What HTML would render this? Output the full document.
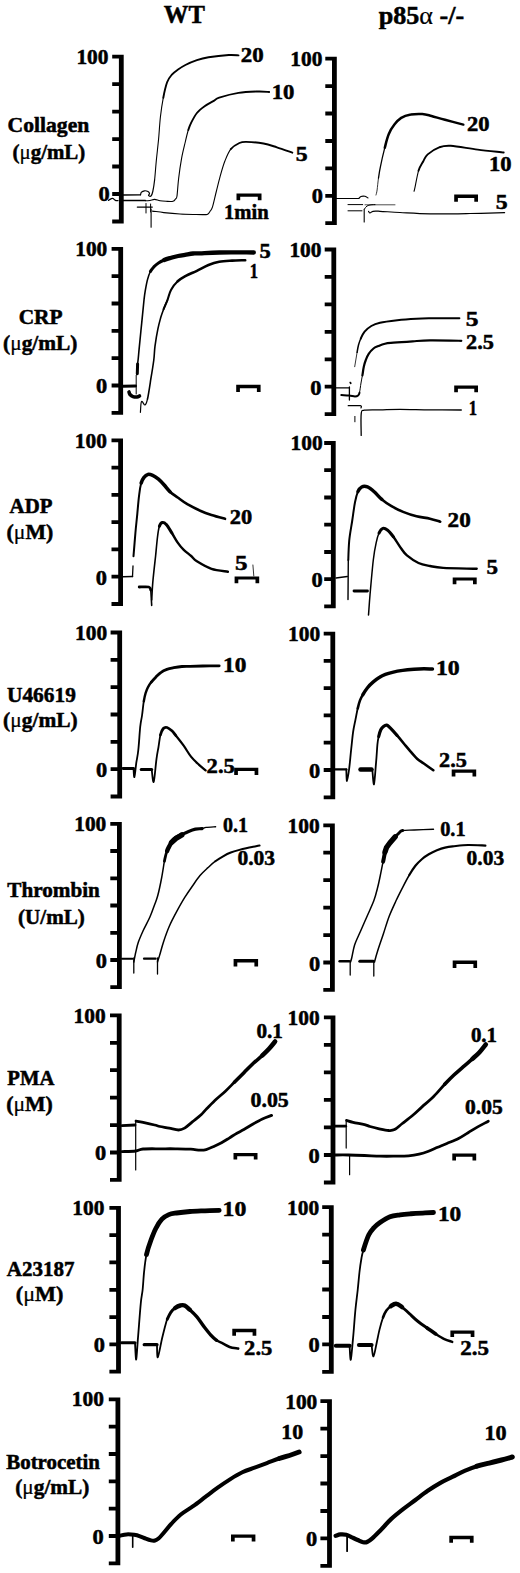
<!DOCTYPE html>
<html><head><meta charset="utf-8"><style>
html,body{margin:0;padding:0;background:#fff;overflow:hidden;}
svg{display:block;}
text{font-family:"Liberation Serif",serif;font-weight:bold;stroke:#000;stroke-width:0.5px;}
.tr{fill:none;stroke:#000;stroke-linejoin:round;stroke-linecap:round;}
</style></head><body>
<svg width="520" height="1573" viewBox="0 0 520 1573">
<path d="M118.9 54.8h4.8v168.6h-4.8zM112.2 54.8h7.2v3.8h-7.2zM112.2 82.3h7.2v3.8h-7.2zM112.2 109.7h7.2v3.8h-7.2zM112.2 137.2h7.2v3.8h-7.2zM112.2 164.6h7.2v3.8h-7.2zM112.2 192.1h7.2v3.8h-7.2zM112.2 219.6h7.2v3.8h-7.2z"/>
<path d="M118.3 247h4.8v167.7h-4.8zM111.6 247h7.2v3.8h-7.2zM111.6 274.3h7.2v3.8h-7.2zM111.6 301.6h7.2v3.8h-7.2zM111.6 329h7.2v3.8h-7.2zM111.6 356.3h7.2v3.8h-7.2zM111.6 383.6h7.2v3.8h-7.2zM111.6 410.9h7.2v3.8h-7.2z"/>
<path d="M118.2 438.4h4.8v167.5h-4.8zM111.5 438.4h7.2v3.8h-7.2zM111.5 465.7h7.2v3.8h-7.2zM111.5 493h7.2v3.8h-7.2zM111.5 520.2h7.2v3.8h-7.2zM111.5 547.5h7.2v3.8h-7.2zM111.5 574.8h7.2v3.8h-7.2zM111.5 602.1h7.2v3.8h-7.2z"/>
<path d="M117.3 630.6h4.8v167.8h-4.8zM110.6 630.6h7.2v3.8h-7.2zM110.6 657.9h7.2v3.8h-7.2zM110.6 685.3h7.2v3.8h-7.2zM110.6 712.6h7.2v3.8h-7.2zM110.6 740h7.2v3.8h-7.2zM110.6 767.3h7.2v3.8h-7.2zM110.6 794.6h7.2v3.8h-7.2z"/>
<path d="M117 821.9h4.8v167.2h-4.8zM110.3 821.9h7.2v3.8h-7.2zM110.3 849.1h7.2v3.8h-7.2zM110.3 876.4h7.2v3.8h-7.2zM110.3 903.6h7.2v3.8h-7.2zM110.3 930.9h7.2v3.8h-7.2zM110.3 958.1h7.2v3.8h-7.2zM110.3 985.3h7.2v3.8h-7.2z"/>
<path d="M116.8 1013.5h4.8v168.3h-4.8zM110 1013.5h7.2v3.8h-7.2zM110 1040.9h7.2v3.8h-7.2zM110 1068.3h7.2v3.8h-7.2zM110 1095.8h7.2v3.8h-7.2zM110 1123.2h7.2v3.8h-7.2zM110 1150.6h7.2v3.8h-7.2zM110 1178h7.2v3.8h-7.2z"/>
<path d="M116.1 1205.9h4.8v167.7h-4.8zM109.4 1205.9h7.2v3.8h-7.2zM109.4 1233.2h7.2v3.8h-7.2zM109.4 1260.5h7.2v3.8h-7.2zM109.4 1287.9h7.2v3.8h-7.2zM109.4 1315.2h7.2v3.8h-7.2zM109.4 1342.5h7.2v3.8h-7.2zM109.4 1369.8h7.2v3.8h-7.2z"/>
<path d="M115.5 1397.5h4.8v167.7h-4.8zM108.8 1397.5h7.2v3.8h-7.2zM108.8 1424.8h7.2v3.8h-7.2zM108.8 1452.1h7.2v3.8h-7.2zM108.8 1479.5h7.2v3.8h-7.2zM108.8 1506.8h7.2v3.8h-7.2zM108.8 1534.1h7.2v3.8h-7.2zM108.8 1561.4h7.2v3.8h-7.2z"/>
<path d="M332 56.8h4.8v168.3h-4.8zM325.3 56.8h7.2v3.8h-7.2zM325.3 84.2h7.2v3.8h-7.2zM325.3 111.6h7.2v3.8h-7.2zM325.3 139.1h7.2v3.8h-7.2zM325.3 166.5h7.2v3.8h-7.2zM325.3 193.9h7.2v3.8h-7.2zM325.3 221.3h7.2v3.8h-7.2z"/>
<path d="M331.4 247.6h4.8v168.4h-4.8zM324.7 247.6h7.2v3.8h-7.2zM324.7 275h7.2v3.8h-7.2zM324.7 302.5h7.2v3.8h-7.2zM324.7 329.9h7.2v3.8h-7.2zM324.7 357.4h7.2v3.8h-7.2zM324.7 384.8h7.2v3.8h-7.2zM324.7 412.2h7.2v3.8h-7.2z"/>
<path d="M330.9 441.1h4.8v167.2h-4.8zM324.2 441.1h7.2v3.8h-7.2zM324.2 468.3h7.2v3.8h-7.2zM324.2 495.6h7.2v3.8h-7.2zM324.2 522.8h7.2v3.8h-7.2zM324.2 550.1h7.2v3.8h-7.2zM324.2 577.3h7.2v3.8h-7.2zM324.2 604.5h7.2v3.8h-7.2z"/>
<path d="M330.4 631.7h4.8v167.5h-4.8zM323.7 631.7h7.2v3.8h-7.2zM323.7 659h7.2v3.8h-7.2zM323.7 686.3h7.2v3.8h-7.2zM323.7 713.5h7.2v3.8h-7.2zM323.7 740.8h7.2v3.8h-7.2zM323.7 768.1h7.2v3.8h-7.2zM323.7 795.4h7.2v3.8h-7.2z"/>
<path d="M330 823.4h4.8v168.4h-4.8zM323.3 823.4h7.2v3.8h-7.2zM323.3 850.8h7.2v3.8h-7.2zM323.3 878.3h7.2v3.8h-7.2zM323.3 905.7h7.2v3.8h-7.2zM323.3 933.2h7.2v3.8h-7.2zM323.3 960.6h7.2v3.8h-7.2zM323.3 988h7.2v3.8h-7.2z"/>
<path d="M330.6 1015.4h4.8v169.1h-4.8zM323.9 1015.4h7.2v3.8h-7.2zM323.9 1042.9h7.2v3.8h-7.2zM323.9 1070.4h7.2v3.8h-7.2zM323.9 1098h7.2v3.8h-7.2zM323.9 1125.5h7.2v3.8h-7.2zM323.9 1153.1h7.2v3.8h-7.2zM323.9 1180.6h7.2v3.8h-7.2z"/>
<path d="M328.9 1205.3h4.8v168.4h-4.8zM322.2 1205.3h7.2v3.8h-7.2zM322.2 1232.8h7.2v3.8h-7.2zM322.2 1260.2h7.2v3.8h-7.2zM322.2 1287.6h7.2v3.8h-7.2zM322.2 1315.1h7.2v3.8h-7.2zM322.2 1342.5h7.2v3.8h-7.2zM322.2 1369.9h7.2v3.8h-7.2z"/>
<path d="M327.1 1399.3h4.8v168.4h-4.8zM320.4 1399.3h7.2v3.8h-7.2zM320.4 1426.8h7.2v3.8h-7.2zM320.4 1454.2h7.2v3.8h-7.2zM320.4 1481.6h7.2v3.8h-7.2zM320.4 1509.1h7.2v3.8h-7.2zM320.4 1536.5h7.2v3.8h-7.2zM320.4 1563.9h7.2v3.8h-7.2z"/>
<path d="M236.5 193.5H261.5V200.2H257.8V196.8H240.2V200.2H236.5zM454.2 194.6H478V201.7H474.3V197.9H457.9V201.7H454.2zM236.2 384.8H260.6V392.1H256.9V388.3H239.9V392.1H236.2zM454.2 385.6H478V392.3H474.3V388.8H457.9V392.3H454.2zM234.6 576.5H259.2V583.3H255.5V579.6H238.3V583.3H234.6zM452.7 577.5H476.7V584.2H473V580.6H456.4V584.2H452.7zM234.2 767.7H258.3V775H254.6V770.9H237.9V775H234.2zM451.7 769.6H476.2V776.5H472.5V772.8H455.4V776.5H451.7zM233.6 959H258.1V966.5H254.4V962.4H237.3V966.5H233.6zM452.7 960.5H477.1V967.9H473.4V964H456.4V967.9H452.7zM233.5 1152.9H257.5V1159.6H253.8V1156.2H237.2V1159.6H233.5zM452.3 1153.5H476.2V1160.6H472.5V1156.8H456V1160.6H452.3zM232.3 1328.8H256.3V1335.8H252.6V1332.2H236V1335.8H232.3zM450.4 1330.4H474.4V1337.1H470.7V1333.8H454.1V1337.1H450.4zM231 1534.4H255.4V1541.5H251.7V1537.8H234.7V1541.5H231zM449.3 1535.8H473.6V1542.8H469.9V1539.2H453V1542.8H449.3z"/>
<path class="tr" stroke-width="1.3" d="M123 195 L140.5 194.8"/>
<path class="tr" stroke-width="1.2" d="M140.5 194.8 C140.7 194.4 140.8 192.9 141.5 192.2 C142.2 191.5 143.4 190.9 144.5 190.8 C145.6 190.7 147.2 191.1 148 191.5 C148.8 191.9 149.4 192.8 149.5 193.5 C149.6 194.2 148.2 195.1 148.5 195.5 C148.8 195.9 150.3 196.7 151 196 C151.7 195.3 152.2 194.2 152.8 191.5 C153.4 188.8 154 185.4 154.6 180"/>
<path class="tr" stroke-width="1.1" d="M154.6 180 C155.2 174.6 155.8 165.5 156.5 158.8 C157.2 152.1 157.8 147 158.5 140 C159.2 133 159.6 124 160.4 117 C161.2 110 162.2 103.5 163.3 97.7"/>
<path class="tr" stroke-width="1.9" d="M163.3 97.7 C164.4 91.9 165.7 86.2 167.1 82.3 C168.5 78.4 170.1 76.7 171.9 74.6 C173.7 72.5 175.4 71.4 177.7 69.8 C179.9 68.2 182.2 66.6 185.4 65 C188.6 63.4 193.1 61.5 196.9 60.2 C200.8 58.9 203.2 58.2 208.5 57.3 C213.8 56.4 223.8 55.3 228.8 55 C233.8 54.7 236.9 55.3 238.5 55.4"/>
<path class="tr" stroke-width="1.3" d="M108.5 200.4 C108.9 200.1 110.2 199.1 111 198.8 C111.8 198.5 112.3 198.2 113 198.5 C113.7 198.8 114.6 200.1 115.4 200.4 C116.2 200.8 117.6 200.6 118 200.6"/>
<path class="tr" stroke-width="1.3" d="M123 200.5 L145.4 200.5"/>
<path class="tr" stroke-width="1.1" d="M145.4 200.8 C146.2 200.8 148.5 200.7 150 200.5 C151.5 200.3 152.9 199.3 154.6 199.4 C156.3 199.5 158.1 200.5 160 200.8 C161.9 201.1 163.8 201.2 166 201.3 C168.2 201.4 171.4 201.7 173 201.3 C174.6 200.9 174.8 199.9 175.5 199 C176.2 198.1 176.5 199.5 177 196 C177.5 192.5 177.9 184.2 178.7 178 C179.4 171.8 180.4 164.9 181.5 158.8 C182.6 152.7 184.3 146.3 185.4 141.5 C186.5 136.7 187.3 133.1 188.3 130"/>
<path class="tr" stroke-width="1.9" d="M188.3 130 C189.3 126.9 189.8 125.5 191.2 122.7 C192.6 119.9 194.7 115.7 196.9 113 C199.1 110.3 201.7 108.4 204.6 106.3 C207.5 104.2 211.8 102 214.2 100.6 C216.6 99.2 215.1 99 219.2 97.7 C223.2 96.4 232.1 93.9 238.5 92.9 C244.9 91.9 252.6 91.7 257.7 91.5 C262.8 91.3 267.3 91.9 269.2 92"/>
<path class="tr" stroke-width="1.2" d="M137.3 207.1 L152.3 207.1"/>
<path class="tr" stroke-width="1.0" d="M146 203.5 L146 213"/>
<path class="tr" stroke-width="1.0" d="M150.6 204 L150.6 212"/>
<path class="tr" stroke-width="1.1" d="M151.1 209 L151.1 227.3"/>
<path class="tr" stroke-width="1.1" d="M152.5 211.1 C154.4 211.3 159.2 212.1 163.8 212.6 C168.4 213.1 174.8 213.7 180 214 C185.2 214.3 190.9 214.4 195 214.5 C199.1 214.6 202.5 214.7 204.6 214.6 C206.7 214.5 206.7 214.8 207.7 214.2 C208.7 213.6 209.6 212 210.4 210.8 C211.2 209.6 211.5 210.1 212.5 206.9 C213.5 203.7 215 196.6 216.3 191.5 C217.6 186.4 218.8 181.3 220.2 176.2 C221.6 171.1 223.2 165.3 225 160.8 C226.8 156.3 228.4 152.2 230.8 149.2"/>
<path class="tr" stroke-width="1.9" d="M230.8 149.2 C233.2 146.2 236.8 144.2 239.4 143 C242 141.8 242.2 141.8 246.2 141.9 C250.2 142 258.4 142.6 263.5 143.5 C268.6 144.4 272.1 145.8 276.9 147.3 C281.7 148.8 289.7 151.8 292.3 152.7"/>
<path class="tr" stroke-width="1.2" d="M336 198.5 L358.8 198.5"/>
<path class="tr" stroke-width="1.1" d="M358.8 198.5 C359.2 198.2 360 196.9 361 196.5 C362 196.1 363.8 196.1 365 196.3 C366.2 196.6 367.5 197.7 368 198"/>
<path class="tr" stroke-width="0.8" d="M376 195 C376.2 194.2 376.7 192.8 377.1 190 C377.5 187.2 377.9 181.8 378.5 178"/>
<path class="tr" stroke-width="1.3" d="M378.5 178 C379.1 174.2 379.3 172 380.4 166.9 C381.4 161.8 383.4 153.1 384.8 147.7"/>
<path class="tr" stroke-width="2.5" d="M384.8 147.7 C386.2 142.2 387.1 138 388.7 134.2 C390.3 130.3 392.3 127.3 394.4 124.6 C396.5 121.9 398.5 119.6 401.2 117.9 C403.9 116.2 407.3 115.2 410.8 114.6 C414.3 113.9 418.9 113.8 422.3 114 C425.8 114.2 427.7 115 431.5 116 C435.3 117 439.7 118.4 445 119.8 C450.3 121.2 460.2 123.8 463.3 124.6"/>
<path class="tr" stroke-width="1.0" d="M348 204.6 L362.7 204.6"/>
<path class="tr" stroke-width="0.7" d="M365 204.8 L395 204.8"/>
<path class="tr" stroke-width="1.0" d="M348 210.8 L362 210.8"/>
<path class="tr" stroke-width="1.1" d="M364.2 209.4 L364.2 222"/>
<path class="tr" stroke-width="1.0" d="M364.5 209 C364.9 208.5 365.9 206.7 367 206 C368.1 205.3 369.7 205 371 204.8 C372.3 204.6 374.3 204.6 375 204.6"/>
<path class="tr" stroke-width="1.2" d="M368.5 211.3 C368.8 211.6 369.2 213 370 213 C370.8 213 371.3 211.6 373 211.3 C374.7 211 375.5 211.1 380 211.3 C384.5 211.5 391.7 212.1 400 212.5 C408.3 212.9 418.3 213.6 430 213.8 C441.7 214 457.6 213.7 470 213.5 C482.4 213.3 498.8 212.8 504.6 212.7"/>
<path class="tr" stroke-width="1.1" d="M414 191 C414.1 190.7 413.9 192.6 414.6 189.2 C415.4 185.8 417.1 175.5 418.5 170.8"/>
<path class="tr" stroke-width="1.9" d="M418.5 170.8 C419.9 166.1 421.8 163.9 423.3 161.2 C424.8 158.5 425.1 156.7 427.7 154.4 C430.3 152.1 435.3 148.7 439.2 147.3 C443.1 145.9 444.4 145.4 450.8 145.8 C457.2 146.2 468.9 148.5 477.7 149.6 C486.5 150.7 499.4 152 503.7 152.5"/>
<path class="tr" stroke-width="3.0" d="M123 386.2 L135.4 386"/>
<path class="tr" stroke-width="1.0" d="M136.2 386 L136.2 375.4"/>
<path class="tr" stroke-width="3.0" d="M137.3 373.8 L137.6 364"/>
<path class="tr" stroke-width="1.6" d="M137.6 364 C137.7 363 138 361 138.3 358 C138.6 355 138.8 351.9 139.4 346.1 C140 340.3 140.9 330.8 141.7 323.1 C142.5 315.4 143.4 305.3 144 300 C144.6 294.7 144.6 294.5 145.2 291.1 C145.8 287.7 146.6 282.9 147.5 279.6 C148.4 276.3 149.3 273.6 150.4 271.5"/>
<path class="tr" stroke-width="3.0" d="M150.4 271.5 C151.5 269.4 152.5 268.3 153.8 266.9 C155.2 265.5 156.8 264 158.5 262.9 C160.2 261.8 162.1 260.9 164.2 260"/>
<path class="tr" stroke-width="4.3" d="M164.2 260 C166.3 259.1 168.9 258.4 171.2 257.7 C173.5 257 175.8 256.5 178.1 256 C180.4 255.5 182.5 255.2 185 254.8 C187.5 254.4 190.5 253.7 193 253.5 C195.5 253.3 195.6 253.6 200 253.4 C204.4 253.2 210.2 252.7 219.2 252.5 C228.2 252.3 248 252.5 253.8 252.5"/>
<path class="tr" stroke-width="1.0" d="M136.2 386 L136.2 394"/>
<path class="tr" stroke-width="3.6" d="M129 392 C129.2 392.4 129.3 393.7 130 394.5 C130.7 395.3 131.8 396.2 133 396.6 C134.2 397 135.9 397.1 137 397 C138.1 396.9 139.1 396.2 139.5 396"/>
<path class="tr" stroke-width="1.2" d="M140.4 412.3 C140.6 410.5 140.7 402.7 141.5 401.5 C142.3 400.3 144 405.4 145 405 C146 404.6 146.5 403.3 147.5 399"/>
<path class="tr" stroke-width="1.6" d="M147.5 399 C148.5 394.7 149.8 385.7 150.8 379.2 C151.9 372.7 153.1 365.5 153.8 360 C154.5 354.5 154.3 351.3 155 346.1 C155.7 340.9 156.9 333.6 157.9 328.8 C158.9 324 159.9 320.6 160.8 317.3 C161.8 314 162.5 312.1 163.6 309.2 C164.7 306.3 166.8 301.5 167.5 300"/>
<path class="tr" stroke-width="2.1" d="M163.6 309.2 C164.2 307.7 166.3 303.2 167.5 300 C168.7 296.8 169.3 293.1 171 290 C172.7 286.9 175.1 283.7 177.7 281.3"/>
<path class="tr" stroke-width="2.6" d="M177.7 281.3 C180.2 278.9 183.1 277.4 186.3 275.6 C189.5 273.9 193.2 272.6 196.9 270.8 C200.6 269 204.8 266.5 208.5 265 C212.2 263.5 215.3 262.5 219.2 261.8 C223.1 261.1 227.7 260.9 232 260.6 C236.3 260.3 243 260.3 245.2 260.2"/>
<path class="tr" stroke-width="1.4" d="M336 387.9 L349.4 387.9"/>
<path class="tr" stroke-width="1.3" d="M349.4 386.9 L349.4 400"/>
<path class="tr" stroke-width="1.8" d="M350.3 382.6 L350.7 383.2"/>
<path class="tr" stroke-width="2.0" d="M341.3 395.1 C342.6 395.2 346.7 395.3 349 395.5 C351.3 395.7 353.5 396.5 355 396.5 C356.5 396.5 357.4 396.1 358.1 395.5 C358.9 394.9 359 394.8 359.5 392.7"/>
<path class="tr" stroke-width="1.0" d="M359.5 392.7 C360 390.6 360.5 385.9 361 383 C361.5 380.1 361.9 378.1 362.4 375.4"/>
<path class="tr" stroke-width="2.2" d="M362.4 375.4 C362.9 372.7 363.2 369.3 363.8 366.7 C364.4 364.1 365 362.1 365.8 360 C366.6 357.9 367.4 355.7 368.7 353.8 C370 351.9 371.9 349.8 373.5 348.5 C375.1 347.2 376.4 346.9 378.3 346.1 C380.2 345.3 382.5 344.3 385 343.7 C387.5 343.1 388.9 343.1 393.5 342.7 C398.1 342.3 406.6 341.7 412.7 341.3 C418.8 340.9 421.9 340.5 430 340.4 C438.1 340.3 456.1 340.7 461.3 340.8"/>
<path class="tr" stroke-width="0.8" d="M354.7 366.7 L357.1 352.3"/>
<path class="tr" stroke-width="1.5" d="M357.1 352.3 C357.3 351.1 357.9 347.3 358.5 345 C359.1 342.7 359.8 340.7 360.8 338.5"/>
<path class="tr" stroke-width="2.0" d="M360.8 338.5 C361.8 336.3 362.9 333.8 364.6 331.7 C366.4 329.6 368.7 327.5 371.3 326 C373.9 324.5 375.7 323.7 380 322.7 C384.3 321.7 391.2 320.9 397.3 320.2 C403.4 319.5 411.1 319 416.5 318.7 C421.9 318.4 422.9 318.4 430 318.3 C437.1 318.2 454.5 318.3 459.4 318.3"/>
<path class="tr" stroke-width="1.2" d="M348.2 405.7 C350.2 405.7 358.2 405.3 360.3 405.7 C362.4 406.1 360.9 407.6 361 408"/>
<path class="tr" stroke-width="1.3" d="M361.2 435.4 C361.2 431.8 360.7 418.2 361.2 414 C361.7 409.8 361.2 410.9 364.3 410.2 C367.4 409.5 374.1 409.9 380 409.8 C385.9 409.7 391.7 409.3 400 409.3 C408.3 409.3 419.8 409.7 430 409.8 C440.2 409.9 456.1 410 461.3 410"/>
<path class="tr" stroke-width="1.0" d="M354.9 416.4 L354.9 421.8"/>
<path class="tr" stroke-width="1.6" d="M123 576.8 L132.5 576.5"/>
<path class="tr" stroke-width="1.3" d="M132.5 576.5 L133 566"/>
<path class="tr" stroke-width="2.0" d="M133.5 556.2 C133.8 552.3 134.8 540.1 135.4 533 C136 525.9 136.7 520.2 137.3 513.8 C137.9 507.4 138.5 499.7 139.2 494.6 C139.8 489.5 140.4 485.9 141.2 483"/>
<path class="tr" stroke-width="3.6" d="M141.2 483 C142 480.1 142.9 478.7 144 477.3 C145.1 475.9 146.5 474.7 147.9 474.4 C149.3 474.1 150.9 474.6 152.7 475.4 C154.5 476.2 156.6 477.6 158.5 479.2 C160.4 480.8 162.3 482.9 164.2 485 C166.1 487.1 167.8 489.6 170 491.7"/>
<path class="tr" stroke-width="2.6" d="M170 491.7 C172.2 493.8 174.8 495.4 177.7 497.5 C180.6 499.6 183.5 501.9 187.3 504.2 C191.2 506.4 196.8 509.2 200.8 511 C204.8 512.8 207.5 513.7 211.5 515 C215.5 516.3 222.8 518.2 225 518.8"/>
<path class="tr" stroke-width="2.8" d="M139.2 587 C140.8 587 146.9 586.5 148.8 587 C150.7 587.5 150.5 589.5 150.8 590"/>
<path class="tr" stroke-width="1.6" d="M150.8 590 L151.7 605.4"/>
<path class="tr" stroke-width="1.6" d="M151.7 600 C151.9 596.7 152.3 587.3 153 580 C153.7 572.7 154.8 563.2 155.6 556 C156.3 548.8 156.9 542 157.5 537 C158.1 532 158.6 528.7 159.4 526.3"/>
<path class="tr" stroke-width="3.0" d="M159.4 526.3 C160.2 523.9 161.2 522.8 162.3 522.5 C163.4 522.2 164.6 522.6 166.2 524.4 C167.8 526.1 170 530 171.9 533"/>
<path class="tr" stroke-width="2.4" d="M171.9 533 C173.8 536 175.8 539.9 177.7 542.7 C179.6 545.5 181.2 547.4 183.5 549.6 C185.8 551.8 189 554.1 191.2 556 C193.4 557.9 193.5 559.1 196.9 561.2 C200.3 563.3 206.3 567 211.5 568.8 C216.7 570.5 225.2 571.2 227.9 571.7"/>
<path class="tr" stroke-width="0.8" d="M252.9 565 L253.8 576"/>
<path class="tr" stroke-width="1.4" d="M336 578 C337.9 577.8 345.4 576.8 347.3 576.5"/>
<path class="tr" stroke-width="1.4" d="M348 599.6 L348.3 560"/>
<path class="tr" stroke-width="2.0" d="M348.3 560 C348.4 556.8 348.6 547.2 349.2 540.8 C349.8 534.4 351.1 527.9 352.1 521.5 C353.1 515.1 354 507.3 355 502.3 C356 497.3 356.8 494.3 357.9 491.7"/>
<path class="tr" stroke-width="3.4" d="M357.9 491.7 C359 489.1 360.1 487.7 361.7 486.9 C363.3 486.1 365.4 486.1 367.5 486.9 C369.6 487.7 371.8 489.6 374.2 491.7 C376.6 493.8 379 497 381.9 499.4"/>
<path class="tr" stroke-width="2.6" d="M381.9 499.4 C384.8 501.8 388 504.1 391.5 506.2 C395 508.3 398.9 510.2 403.1 511.9 C407.3 513.6 412 515.2 416.5 516.3 C421 517.4 426.1 517.8 430 518.7 C433.9 519.6 438.5 521.2 440.2 521.7"/>
<path class="tr" stroke-width="2.8" d="M354 591 L367.5 591"/>
<path class="tr" stroke-width="1.5" d="M368.5 615 C368.8 611.7 369.2 604.2 370 595 C370.8 585.8 372.3 568.7 373.3 560 C374.3 551.3 375.2 547.2 376.2 542.7 C377.1 538.2 377.9 535.4 379 533"/>
<path class="tr" stroke-width="3.0" d="M379 533 C380.1 530.6 381.4 528.8 382.9 528.3 C384.3 527.8 385.9 528.8 387.7 530.2 C389.5 531.6 391.2 533.9 393.5 536.9"/>
<path class="tr" stroke-width="2.4" d="M393.5 536.9 C395.8 539.9 399 545.4 401.2 548.5 C403.4 551.6 404 553 406.9 555.4 C409.8 557.8 414.6 561.2 418.5 563 C422.4 564.8 425.9 565.2 430 566 C434.1 566.8 435.3 567.4 443.1 567.9 C450.9 568.4 471.1 568.6 476.7 568.8"/>
<path class="tr" stroke-width="2.8" d="M123 768.5 L133.5 768.5"/>
<path class="tr" stroke-width="1.8" d="M133.5 768.5 C133.7 769.9 133.9 778.1 134.4 777.1 C134.9 776.1 135.7 767.2 136.3 762.7 C137 758.2 137.7 756 138.3 750 C139 744 139.6 732.7 140.2 726.9 C140.8 721.1 141.5 719.3 142.1 715 C142.7 710.7 143.2 704.9 143.8 701.2"/>
<path class="tr" stroke-width="2.4" d="M143.8 701.2 C144.4 697.6 144.9 695.4 145.6 693.1 C146.3 690.8 146.9 689.1 147.9 687.3 C148.9 685.5 150 683.8 151.3 682.1"/>
<path class="tr" stroke-width="2.8" d="M151.3 682.1 C152.7 680.4 154.4 678.5 156 676.9 C157.6 675.3 159.3 673.5 161.1 672.3 C162.9 671 164.8 670.2 166.9 669.4 C169 668.6 171.3 668.2 173.8 667.7 C176.3 667.2 179.2 666.7 181.9 666.5 C184.6 666.3 186.5 666.4 190 666.3 C193.5 666.2 197.8 666.1 202.7 666 C207.6 665.9 216.4 665.8 219.2 665.8"/>
<path class="tr" stroke-width="3.0" d="M141.2 769.4 L151.7 769.4"/>
<path class="tr" stroke-width="1.8" d="M151.7 769.4 C152 771.5 152.9 783.7 153.7 781.9 C154.5 780.1 155.7 764.6 156.5 758.8 C157.3 753 157.8 751 158.5 747 C159.2 743 159.6 738.1 160.4 735"/>
<path class="tr" stroke-width="2.8" d="M160.4 735 C161.2 731.9 162.2 729.8 163.3 728.5 C164.4 727.2 165.7 727.1 167.1 727.5 C168.5 727.9 170.4 729.5 171.9 730.8 C173.4 732.1 173.9 733.1 175.8 735.5"/>
<path class="tr" stroke-width="2.2" d="M175.8 735.5 C177.7 737.9 180.9 741.8 183.5 745.4 C186.1 749 188.6 753.7 191.2 756.9 C193.8 760.1 196.4 762.4 198.8 764.6 C201.2 766.9 204.5 769.4 205.6 770.4"/>
<path class="tr" stroke-width="2.4" d="M335 769.4 L346.3 769.4"/>
<path class="tr" stroke-width="1.8" d="M346.3 769.4 C346.4 771.3 346.5 781.1 347 781 C347.5 780.9 348.5 773.8 349.2 768.5 C349.9 763.2 350.5 755.3 351.2 749.2 C351.9 743.1 352.4 736.9 353.1 732 C353.8 727.1 354.6 723.9 355.4 720 C356.2 716.1 356.9 711.8 357.7 708.5"/>
<path class="tr" stroke-width="2.6" d="M357.7 708.5 C358.5 705.2 359.1 702.7 360 700.4 C360.9 698.1 361.6 696.7 362.9 694.6"/>
<path class="tr" stroke-width="3.4" d="M362.9 694.6 C364.1 692.5 365.8 689.8 367.5 687.7 C369.2 685.6 371.3 683.6 373.3 681.9 C375.3 680.2 377.6 678.5 379.6 677.3 C381.6 676 383.1 675.3 385.4 674.4 C387.7 673.5 390.5 672.8 393.4 672.1 C396.3 671.4 399.3 670.9 402.7 670.4 C406.1 669.9 410.4 669.5 414 669.2 C417.6 668.9 420.9 668.8 424 668.8 C427.1 668.8 431.1 669 432.5 669"/>
<path class="tr" stroke-width="4.5" d="M360.5 769.4 L371.5 769.4"/>
<path class="tr" stroke-width="1.8" d="M372.3 769.4 C372.6 771.9 373.4 785.5 374 784.3 C374.6 783.1 375.5 768.7 376.1 762.1 C376.7 755.5 377 748.9 377.4 744.6 C377.8 740.3 378.1 739 378.7 736.5"/>
<path class="tr" stroke-width="3.2" d="M378.7 736.5 C379.3 734 380 731.5 380.8 729.8 C381.6 728.1 382.5 727.2 383.5 726.4 C384.5 725.6 385.7 724.9 386.8 725.1 C387.9 725.3 388.5 726.1 390.2 727.8 C391.9 729.5 394.7 732.6 396.9 735.2"/>
<path class="tr" stroke-width="2.6" d="M396.9 735.2 C399.1 737.8 401.4 740.6 403.6 743.3 C405.9 746 408.1 748.7 410.4 751.3 C412.6 753.9 414.9 756.7 417.1 758.7 C419.3 760.7 421.1 761.6 423.8 763.5 C426.5 765.4 431.7 769.1 433.3 770.2"/>
<path class="tr" stroke-width="2.0" d="M122 958.7 L132.5 958.7"/>
<path class="tr" stroke-width="1.3" d="M133.8 958 L133.8 973"/>
<path class="tr" stroke-width="1.5" d="M133.8 962 C134.1 960.6 134.7 957.1 135.4 953.8 C136.2 950.5 137 946.1 138.3 942.3 C139.6 938.5 141.2 935 143.1 930.8 C145 926.6 147.9 921.6 149.8 917.3 C151.7 913 153.2 908.6 154.5 905 C155.8 901.4 156.5 900.2 157.7 895.8 C158.9 891.4 160.4 884.3 161.5 878.5 C162.6 872.7 163.7 865.1 164.4 861.2"/>
<path class="tr" stroke-width="2.8" d="M164.4 861.2 C165.1 857.3 165.4 856.7 165.8 855 C166.2 853.3 166.6 852.4 167.1 851"/>
<path class="tr" stroke-width="4.4" d="M167.1 851 C167.6 849.6 168.3 848.1 169.1 846.6 C169.9 845.1 170.7 843.4 171.8 841.9 C172.9 840.4 174.2 839.1 175.9 837.9 C177.6 836.7 180.9 835.1 181.9 834.5"/>
<path class="tr" stroke-width="5.2" d="M171.5 842.5 L176 838.5 L181.9 835"/>
<path class="tr" stroke-width="3.2" d="M181.9 834.5 C183 834 186.3 832.3 188.6 831.4 C190.8 830.5 193.2 829.6 195.4 829.1 C197.7 828.6 200.3 828.9 202.1 828.6"/>
<path class="tr" stroke-width="1.4" d="M202.1 828.6 C203.9 828.3 203.8 827.7 206.1 827.4 C208.3 827.1 214 826.9 215.6 826.8"/>
<path class="tr" stroke-width="2.2" d="M144 958.7 L155.6 958.7"/>
<path class="tr" stroke-width="1.3" d="M157.5 958 L157.5 974"/>
<path class="tr" stroke-width="1.5" d="M157.5 962 C157.8 960.9 158.6 958.8 159.6 955.4 C160.6 952 161.9 946.7 163.5 941.9 C165.1 937.1 167 931.6 169.2 926.5 C171.4 921.4 174.3 916 176.9 911.2 C179.5 906.4 182 901.9 184.6 897.7 C187.2 893.5 189.7 889.9 192.3 886.2 C194.9 882.5 197.4 878.7 200 875.6 C202.6 872.5 205.1 870.3 207.7 867.9 C210.3 865.5 212.8 863.1 215.4 861.2"/>
<path class="tr" stroke-width="2.0" d="M215.4 861.2 C218 859.3 220.5 857.8 223.1 856.3 C225.7 854.8 228.2 853.5 230.8 852.5 C233.4 851.5 235.9 850.8 238.5 850.1 C241.1 849.4 243.9 848.7 246.2 848.2 C248.4 847.7 249.8 847.4 252 847 C254.2 846.6 258.3 845.8 259.6 845.6"/>
<path class="tr" stroke-width="2.4" d="M339.6 961.2 L349.2 961.2"/>
<path class="tr" stroke-width="1.3" d="M350.2 961 L350.2 975"/>
<path class="tr" stroke-width="1.5" d="M350.5 962 C350.7 961.3 351 960.8 351.7 958 C352.4 955.2 353.2 949.4 354.6 945 C356.1 940.6 358.3 936.3 360.4 931.5 C362.5 926.7 364.9 921.3 367.1 916.2 C369.3 911.1 372 905.6 373.8 900.8 C375.6 896 376.6 891.6 377.7 887.3 C378.8 883 379.5 879.3 380.4 875 C381.3 870.7 382.2 865.9 383.1 861.7"/>
<path class="tr" stroke-width="4.0" d="M383.1 861.7 C384 857.5 384.7 852.7 385.8 849.6 C386.9 846.5 389.1 844 389.8 842.9"/>
<path class="tr" stroke-width="5.4" d="M385 852 L386.5 847.5 L389.8 843 L395.2 836.8"/>
<path class="tr" stroke-width="3.0" d="M395.2 836.8 C395.9 836.1 398 833.8 399.2 832.8 C400.4 831.8 400.1 831 402.6 830.5"/>
<path class="tr" stroke-width="1.4" d="M402.6 830.5 C405.1 830 409.1 830.2 414.2 830 C419.3 829.8 430.3 829.3 433.5 829.2"/>
<path class="tr" stroke-width="3.0" d="M359.8 961.2 L373.3 961.2"/>
<path class="tr" stroke-width="1.3" d="M373.8 961 L373.8 976"/>
<path class="tr" stroke-width="1.5" d="M374.5 962 C375 960.1 376.2 955.5 377.7 950.8 C379.2 946 381.6 939.3 383.5 933.5 C385.4 927.7 387.1 921.7 389.2 916.2 C391.3 910.8 393.8 905.6 396 900.8 C398.2 896 400.5 891.6 402.7 887.3 C404.9 883 407.2 878.6 409.3 875"/>
<path class="tr" stroke-width="2.2" d="M409.3 875 C411.4 871.4 413.3 868.5 415.4 865.8 C417.5 863.1 419.9 860.9 422.1 859 C424.3 857.1 426.3 855.8 428.8 854.3 C431.3 852.8 434.2 851.4 436.9 850.3 C439.6 849.2 442.4 848.2 445 847.6 C447.6 847 448.8 846.8 452.7 846.4 C456.6 846 462.7 845.1 468.1 845 C473.6 844.9 482.5 845.5 485.4 845.6"/>
<path class="tr" stroke-width="2.8" d="M122 1125.7 L135 1125"/>
<path class="tr" stroke-width="1.2" d="M135.7 1120.4 L135.7 1170"/>
<path class="tr" stroke-width="2.8" d="M136 1121.1 C137.2 1121.3 140 1121.6 143.1 1122.3 C146.2 1123 151.8 1124.3 154.6 1125 C157.4 1125.7 157.6 1126 160 1126.5 C162.4 1127 166.1 1127.5 169.2 1128.1 C172.3 1128.7 175.9 1130 178.5 1130 C181.1 1130 182.3 1129.4 184.6 1128.1 C186.9 1126.8 189.6 1124.1 192.3 1121.9 C195 1119.7 198.4 1117.2 200.8 1115 C203.2 1112.8 204.3 1111.1 206.9 1108.5 C209.5 1105.9 213.1 1102.2 216.2 1099.3 C219.3 1096.4 222.3 1094.1 225.4 1091.2 C228.5 1088.3 231.5 1085.1 234.6 1082"/>
<path class="tr" stroke-width="3.6" d="M234.6 1082 C237.7 1078.9 240.8 1075.8 243.9 1072.7 C247 1069.6 250 1066.4 253.1 1063.5 C256.2 1060.6 259.7 1057.9 262.4 1055.4"/>
<path class="tr" stroke-width="4.6" d="M262.4 1055.4 C265.1 1052.9 267.2 1050.8 269.3 1048.5 C271.4 1046.2 274.1 1042.7 275.1 1041.5"/>
<path class="tr" stroke-width="2.8" d="M122 1151.6 C124.3 1151.5 132.2 1151.4 135.7 1151 C139.2 1150.6 139 1149.4 143.1 1149 C147.2 1148.6 154.6 1148.8 160 1148.8 C165.4 1148.8 170.3 1148.7 175.4 1148.8 C180.5 1148.9 186.7 1149 190.8 1149.2 C194.9 1149.4 197.4 1150.1 200 1150.2 C202.6 1150.3 203.9 1150.2 206.2 1149.6 C208.5 1149 211.2 1147.7 213.8 1146.5 C216.4 1145.3 218.9 1144.1 221.5 1142.7 C224.1 1141.3 226.6 1139.7 229.2 1138.1 C231.8 1136.5 234.4 1134.6 236.9 1133.2 C239.4 1131.8 241.2 1131 243.9 1129.5 C246.6 1128 250 1125.8 253.1 1124 C256.2 1122.2 259.3 1120.4 262.4 1119 C265.5 1117.6 270.1 1116 271.6 1115.4"/>
<path class="tr" stroke-width="2.8" d="M334 1126.2 L345.7 1126.2"/>
<path class="tr" stroke-width="1.2" d="M346.2 1121.5 L346.2 1148.1"/>
<path class="tr" stroke-width="2.8" d="M346.5 1120.4 C347.6 1120.7 350.1 1121.6 353.1 1122.3 C356.1 1123 361.8 1123.9 364.6 1124.6 C367.4 1125.3 367.6 1125.8 370 1126.5 C372.4 1127.2 376.1 1128.1 379.2 1128.8 C382.3 1129.5 385.9 1130.4 388.5 1130.5 C391.1 1130.6 392.3 1130.8 394.6 1129.6 C396.9 1128.4 399.2 1125.9 402.3 1123.5 C405.4 1121.1 409.8 1117.8 413.1 1115 C416.4 1112.2 418.8 1109.7 422.3 1106.6 C425.8 1103.5 430.2 1099.9 433.9 1096.2 C437.6 1092.5 441.4 1087.8 444.7 1084.3"/>
<path class="tr" stroke-width="3.6" d="M444.7 1084.3 C448 1080.8 450.8 1077.9 453.9 1075 C457 1072.1 460 1069.6 463.1 1066.9 C466.2 1064.2 469.7 1061.3 472.4 1058.9"/>
<path class="tr" stroke-width="4.6" d="M472.4 1058.9 C475.1 1056.5 477.1 1054.9 479.3 1052.5 C481.5 1050.1 484.7 1045.8 485.8 1044.5"/>
<path class="tr" stroke-width="2.8" d="M334 1155 C336.4 1155 343.4 1154.9 348.5 1155 C353.6 1155.1 359.4 1155.3 364.6 1155.5 C369.9 1155.7 375.2 1156.1 380 1156.2 C384.8 1156.3 388.4 1156.3 393.1 1156.2 C397.9 1156.1 404.1 1156.1 408.5 1155.8 C412.9 1155.5 415.9 1155 419.2 1154.2 C422.5 1153.4 425.4 1152.4 428.5 1151.2 C431.6 1150 434.6 1148.6 437.7 1147.3 C440.8 1146 443.4 1145 446.9 1143.5 C450.4 1142 455 1140.3 458.5 1138.5 C462 1136.7 464.9 1134.6 468.1 1132.7 C471.3 1130.8 474.3 1128.8 477.7 1126.9 C481.1 1125 486.5 1122.2 488.3 1121.2"/>
<path class="tr" stroke-width="1.2" d="M349.6 1155 L349.6 1174.7"/>
<path class="tr" stroke-width="3.0" d="M121.5 1342.8 L135 1342.8"/>
<path class="tr" stroke-width="1.8" d="M135 1342.8 C135.2 1345.6 135.7 1360.4 136.2 1359.6 C136.7 1358.8 137.2 1347.1 138 1337.7 C138.8 1328.3 140 1311 140.8 1303.1 C141.6 1295.1 142 1295.4 142.6 1290 C143.2 1284.6 143.5 1276.7 144.2 1270.8 C144.8 1264.9 145.4 1259.7 146.5 1254.6"/>
<path class="tr" stroke-width="4.8" d="M146.5 1254.6 C147.6 1249.5 149.4 1244.3 151 1240 C152.6 1235.7 154 1232 155.8 1228.5 C157.6 1225 159.7 1221.5 161.9 1219.2 C164.1 1216.9 166.4 1215.6 168.8 1214.6 C171.2 1213.6 173 1213.5 176.5 1213 C180 1212.5 185.2 1211.9 190 1211.5 C194.8 1211.1 200.1 1211 205 1210.8 C209.9 1210.6 216.8 1210.4 219.2 1210.3"/>
<path class="tr" stroke-width="3.2" d="M144.2 1344.7 L157 1344.7"/>
<path class="tr" stroke-width="1.8" d="M157 1344.7 C157.1 1346.8 157 1358.4 157.8 1357.3 C158.7 1356.2 160.8 1343.8 162.1 1338.3 C163.4 1332.8 164.7 1327.6 165.6 1324.4 C166.5 1321.2 166.4 1321.2 167.3 1319.2"/>
<path class="tr" stroke-width="3.0" d="M167.3 1319.2 C168.2 1317.2 169.5 1314.2 170.8 1312.3 C172.1 1310.4 173.5 1309.1 175.1 1308"/>
<path class="tr" stroke-width="4.4" d="M175.1 1308 C176.7 1306.9 178.7 1305.9 180.3 1305.5 C181.9 1305.1 183 1304.8 184.6 1305.5 C186.2 1306.2 187.8 1307.9 189.8 1309.7"/>
<path class="tr" stroke-width="3.4" d="M189.8 1309.7 C191.8 1311.5 194.4 1313.9 196.7 1316.6 C199 1319.3 201.3 1323.1 203.6 1326.1 C205.9 1329.1 208.4 1332.4 210.6 1334.8 C212.8 1337.2 214.6 1338.9 216.6 1340.3"/>
<path class="tr" stroke-width="2.6" d="M216.6 1340.3 C218.6 1341.7 220.5 1342.3 222.7 1343.4 C224.9 1344.5 227 1346 229.6 1346.9 C232.2 1347.8 236.8 1348.3 238.2 1348.6"/>
<path class="tr" stroke-width="4.0" d="M335.8 1345.8 L349.6 1345.8"/>
<path class="tr" stroke-width="1.8" d="M349.6 1345.8 C349.8 1348.1 350.2 1361 350.8 1359.7 C351.4 1358.4 352.3 1346 353.1 1337.7 C353.9 1329.4 354.6 1318 355.4 1310 C356.2 1302 357 1296.5 357.7 1290 C358.4 1283.5 359 1276.3 359.6 1271 C360.2 1265.7 360.9 1261.5 361.5 1258 C362.1 1254.5 362.2 1253.9 363.4 1250"/>
<path class="tr" stroke-width="4.8" d="M363.4 1250 C364.6 1246.1 367 1238.5 368.8 1234.8 C370.6 1231.1 372.1 1229.8 374 1227.7 C375.9 1225.7 377.3 1224.3 380 1222.5 C382.7 1220.7 386.7 1218.1 390 1216.8 C393.3 1215.5 396.7 1215.3 400 1214.8 C403.3 1214.3 405.8 1214.1 410 1213.8 C414.2 1213.5 421.1 1213 425 1212.8 C428.9 1212.6 432.1 1212.5 433.5 1212.5"/>
<path class="tr" stroke-width="4.0" d="M358.9 1345.1 L371.6 1345.1"/>
<path class="tr" stroke-width="1.8" d="M371.6 1345.1 C371.9 1347 372.6 1357 373.5 1356.4 C374.4 1355.8 375.9 1346.2 376.9 1341.7 C377.9 1337.2 378.5 1333.6 379.5 1329.6 C380.5 1325.6 381.9 1320.7 383 1317.5"/>
<path class="tr" stroke-width="2.6" d="M383 1317.5 C384.1 1314.3 385.1 1312.5 386.4 1310.6 C387.7 1308.7 389.2 1307.3 390.8 1306.2"/>
<path class="tr" stroke-width="4.4" d="M390.8 1306.2 C392.4 1305.1 394.1 1303.6 396 1303.7 C397.9 1303.8 399.7 1305.4 402 1307.1"/>
<path class="tr" stroke-width="3.0" d="M402 1307.1 C404.3 1308.8 407.1 1311.5 409.8 1314 C412.5 1316.5 415.5 1319.5 418.4 1321.8 C421.3 1324.1 424.2 1325.9 427.1 1327.9"/>
<path class="tr" stroke-width="3.6" d="M427.1 1327.9 C430 1329.9 432.8 1332 435.7 1333.9"/>
<path class="tr" stroke-width="2.6" d="M435.7 1333.9 C438.6 1335.8 441.6 1337.8 444.4 1339.1 C447.1 1340.4 450.9 1341.4 452.2 1341.9"/>
<path class="tr" stroke-width="4.0" d="M119.8 1535.8 C120.9 1535.6 124.1 1534.6 126.5 1534.4 C128.9 1534.2 131.9 1534.5 134.2 1534.8 C136.4 1535.1 138.1 1535.6 140 1536.3 C141.9 1537 144 1538 145.8 1538.7 C147.6 1539.4 149.5 1540.1 151 1540.4 C152.5 1540.7 153.8 1540.8 155 1540.5 C156.2 1540.2 157.3 1539.5 158.5 1538.5 C159.7 1537.5 160.1 1537 162.3 1534.5 C164.5 1532 168.4 1526.9 171.5 1523.6 C174.6 1520.3 177.2 1517.4 180.8 1514.5 C184.4 1511.6 189 1509.1 193.1 1506.2 C197.2 1503.3 201.3 1500 205.4 1496.9 C209.5 1493.8 213.6 1490.6 217.7 1487.7 C221.8 1484.8 225.9 1482 230 1479.4 C234.1 1476.8 238.2 1474.2 242.3 1472.3 C246.4 1470.3 250.5 1469.2 254.6 1467.7 C258.7 1466.2 262.8 1464.6 266.9 1463.1 C271 1461.6 275.1 1459.9 279.2 1458.5"/>
<path class="tr" stroke-width="4.8" d="M279.2 1458.5 C283.3 1457.1 288.2 1455.9 291.5 1454.8 C294.8 1453.7 297.9 1452.5 299.2 1452"/>
<path class="tr" stroke-width="1.6" d="M132.7 1535 L132.7 1547.3"/>
<path class="tr" stroke-width="4.2" d="M335.6 1535.8 C336.4 1535.6 338.6 1534.6 340.4 1534.4 C342.2 1534.2 344.3 1534.3 346.2 1534.8 C348.1 1535.3 350 1536.4 351.9 1537.3 C353.8 1538.2 355.8 1539.2 357.7 1540 C359.6 1540.8 361.6 1541.9 363.1 1542.2 C364.7 1542.5 365.5 1542.7 367 1542 C368.5 1541.3 369.9 1540.4 372.3 1538.3 C374.7 1536.2 378.4 1532.3 381.5 1529.2 C384.6 1526.1 387.2 1522.7 390.8 1519.4 C394.4 1516.1 399 1512.4 403.1 1509.2 C407.2 1506 411.3 1503.1 415.4 1500 C419.5 1496.9 423.6 1493.6 427.7 1490.8 C431.8 1488 435.9 1485.4 440 1483.1 C444.1 1480.8 448.2 1479 452.3 1476.9 C456.4 1474.9 460.5 1472.6 464.6 1470.8 C468.7 1469 472.8 1467.5 476.9 1466.2"/>
<path class="tr" stroke-width="5.0" d="M476.9 1466.2 C481 1464.9 485.1 1464.1 489.2 1463.1 C493.3 1462.1 497.6 1461 501.5 1460 C505.4 1459 510.5 1457.5 512.3 1457"/>
<path class="tr" stroke-width="1.8" d="M347.1 1535 L347.1 1551.2"/>
<text transform="translate(163.8,23) scale(0.985,1)" font-size="25">WT</text>
<text transform="translate(378.7,24) scale(1.044,1)" font-size="25">p85<tspan style='font-weight:normal;stroke-width:0.2px'>α</tspan> -/-</text>
<text transform="translate(7.6,131.7) scale(1.082,1)" font-size="20">Collagen</text>
<text transform="translate(12.5,158.7) scale(1.046,1)" font-size="20">(<tspan style='font-weight:normal;stroke-width:0.2px'>μ</tspan>g/mL)</text>
<text transform="translate(18.7,324.2) scale(1.068,1)" font-size="20">CRP</text>
<text transform="translate(3.1,350) scale(1.069,1)" font-size="20">(<tspan style='font-weight:normal;stroke-width:0.2px'>μ</tspan>g/mL)</text>
<text transform="translate(9.6,513.1) scale(1.041,1)" font-size="20">ADP</text>
<text transform="translate(6.6,538.7) scale(1.088,1)" font-size="20">(<tspan style='font-weight:normal;stroke-width:0.2px'>μ</tspan>M)</text>
<text transform="translate(7,701.7) scale(1.068,1)" font-size="20">U46619</text>
<text transform="translate(3.1,727.3) scale(1.071,1)" font-size="20">(<tspan style='font-weight:normal;stroke-width:0.2px'>μ</tspan>g/mL)</text>
<text transform="translate(7.3,896.5) scale(1.059,1)" font-size="20">Thrombin</text>
<text transform="translate(18.1,924.4) scale(1.055,1)" font-size="20">(U/mL)</text>
<text transform="translate(7.3,1085.2) scale(1.033,1)" font-size="20">PMA</text>
<text transform="translate(6.2,1111.2) scale(1.088,1)" font-size="20">(<tspan style='font-weight:normal;stroke-width:0.2px'>μ</tspan>M)</text>
<text transform="translate(6.7,1275.6) scale(1.052,1)" font-size="20">A23187</text>
<text transform="translate(15.8,1301.2) scale(1.112,1)" font-size="20">(<tspan style='font-weight:normal;stroke-width:0.2px'>μ</tspan>M)</text>
<text transform="translate(6.2,1468.5) scale(1.047,1)" font-size="20">Botrocetin</text>
<text transform="translate(15.2,1494.4) scale(1.066,1)" font-size="20">(<tspan style='font-weight:normal;stroke-width:0.2px'>μ</tspan>g/mL)</text>
<text transform="translate(240.8,62.1) scale(1.144,1)" font-size="20">20</text>
<text transform="translate(271.7,98.7) scale(1.135,1)" font-size="20">10</text>
<text transform="translate(295.8,160.8) scale(1.188,1)" font-size="20">5</text>
<text transform="translate(223.9,218.5) scale(1.032,1)" font-size="20">1min</text>
<text transform="translate(466.9,131.3) scale(1.128,1)" font-size="20">20</text>
<text transform="translate(488.9,170.8) scale(1.129,1)" font-size="20">10</text>
<text transform="translate(495.8,208.5) scale(1.188,1)" font-size="20">5</text>
<text transform="translate(259.5,257.7) scale(1.125,1)" font-size="20">5</text>
<text transform="translate(249.8,277.5) scale(0.829,1)" font-size="20">1</text>
<text transform="translate(465.8,326) scale(1.275,1)" font-size="20">5</text>
<text transform="translate(466,349) scale(1.113,1)" font-size="20">2.5</text>
<text transform="translate(468.7,415.4) scale(0.829,1)" font-size="20">1</text>
<text transform="translate(229.7,524.2) scale(1.122,1)" font-size="20">20</text>
<text transform="translate(234.9,569.8) scale(1.250,1)" font-size="20">5</text>
<text transform="translate(447.6,526.9) scale(1.156,1)" font-size="20">20</text>
<text transform="translate(486.6,574.2) scale(1.150,1)" font-size="20">5</text>
<text transform="translate(223.1,672.1) scale(1.165,1)" font-size="20">10</text>
<text transform="translate(206.6,772.5) scale(1.130,1)" font-size="20">2.5</text>
<text transform="translate(435.9,675) scale(1.188,1)" font-size="20">10</text>
<text transform="translate(439.1,767.3) scale(1.113,1)" font-size="20">2.5</text>
<text transform="translate(223,831.5)" font-size="20">0.1</text>
<text transform="translate(237.4,864.8) scale(1.076,1)" font-size="20">0.03</text>
<text transform="translate(440.2,836) scale(1.017,1)" font-size="20">0.1</text>
<text transform="translate(466.6,865.4) scale(1.073,1)" font-size="20">0.03</text>
<text transform="translate(256.4,1037.5) scale(1.061,1)" font-size="20">0.1</text>
<text transform="translate(250.6,1106.7) scale(1.091,1)" font-size="20">0.05</text>
<text transform="translate(470.9,1041.9) scale(1.048,1)" font-size="20">0.1</text>
<text transform="translate(465.1,1114.4) scale(1.076,1)" font-size="20">0.05</text>
<text transform="translate(222.6,1216) scale(1.188,1)" font-size="20">10</text>
<text transform="translate(244.1,1355.4) scale(1.130,1)" font-size="20">2.5</text>
<text transform="translate(437.9,1220.8) scale(1.165,1)" font-size="20">10</text>
<text transform="translate(460.2,1355.4) scale(1.148,1)" font-size="20">2.5</text>
<text transform="translate(281.3,1439.2) scale(1.094,1)" font-size="20">10</text>
<text transform="translate(484.5,1439.6) scale(1.106,1)" font-size="20">10</text>
<text transform="translate(76.4,63.6) scale(1.070,1)" font-size="20">100</text>
<text transform="translate(98.5,200.9) scale(1.120,1)" font-size="20">0</text>
<text transform="translate(75.2,256.2) scale(1.070,1)" font-size="20">100</text>
<text transform="translate(96.1,393.4) scale(1.120,1)" font-size="20">0</text>
<text transform="translate(74.8,448.4) scale(1.070,1)" font-size="20">100</text>
<text transform="translate(95.7,585) scale(1.120,1)" font-size="20">0</text>
<text transform="translate(75,639.8) scale(1.070,1)" font-size="20">100</text>
<text transform="translate(95.9,776.8) scale(1.120,1)" font-size="20">0</text>
<text transform="translate(74.2,831.1) scale(1.070,1)" font-size="20">100</text>
<text transform="translate(95.7,968) scale(1.120,1)" font-size="20">0</text>
<text transform="translate(73.6,1022.5) scale(1.070,1)" font-size="20">100</text>
<text transform="translate(95.1,1159.8) scale(1.120,1)" font-size="20">0</text>
<text transform="translate(72.3,1214.8) scale(1.070,1)" font-size="20">100</text>
<text transform="translate(93.7,1352.1) scale(1.120,1)" font-size="20">0</text>
<text transform="translate(71.8,1406.3) scale(1.070,1)" font-size="20">100</text>
<text transform="translate(92.6,1544) scale(1.120,1)" font-size="20">0</text>
<text transform="translate(290.3,65.5) scale(1.070,1)" font-size="20">100</text>
<text transform="translate(311.7,202.9) scale(1.120,1)" font-size="20">0</text>
<text transform="translate(289.4,257.1) scale(1.070,1)" font-size="20">100</text>
<text transform="translate(310.3,394.5) scale(1.120,1)" font-size="20">0</text>
<text transform="translate(290.5,450.2) scale(1.070,1)" font-size="20">100</text>
<text transform="translate(311.4,586.6) scale(1.120,1)" font-size="20">0</text>
<text transform="translate(288,641) scale(1.070,1)" font-size="20">100</text>
<text transform="translate(308.9,777.8) scale(1.120,1)" font-size="20">0</text>
<text transform="translate(287.5,832.8) scale(1.070,1)" font-size="20">100</text>
<text transform="translate(308.9,970.5) scale(1.120,1)" font-size="20">0</text>
<text transform="translate(287.5,1024.8) scale(1.070,1)" font-size="20">100</text>
<text transform="translate(308.4,1162.5) scale(1.120,1)" font-size="20">0</text>
<text transform="translate(287.1,1214.8) scale(1.070,1)" font-size="20">100</text>
<text transform="translate(308.4,1352.1) scale(1.120,1)" font-size="20">0</text>
<text transform="translate(285.2,1408.8) scale(1.070,1)" font-size="20">100</text>
<text transform="translate(306.1,1546) scale(1.120,1)" font-size="20">0</text>
</svg>
</body></html>
